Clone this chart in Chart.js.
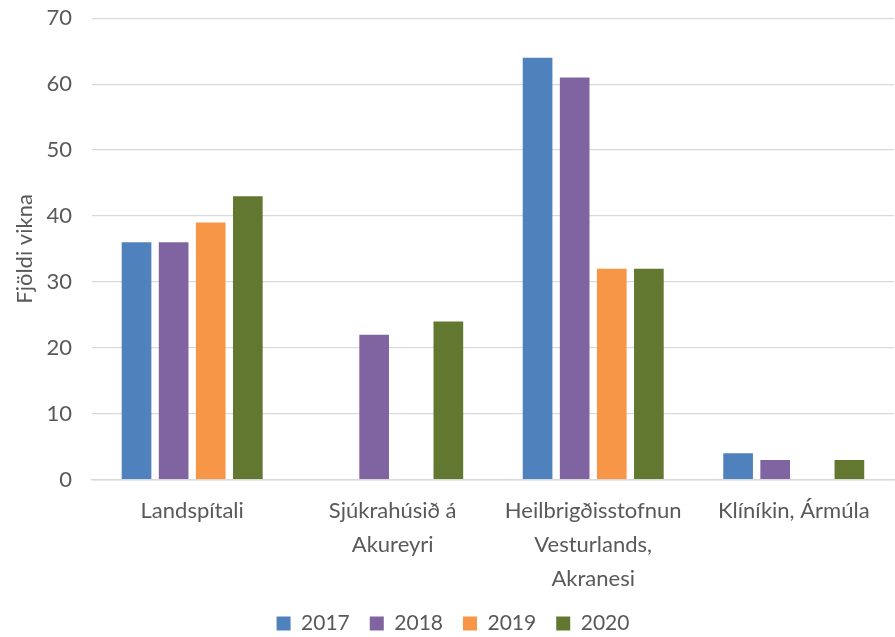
<!DOCTYPE html>
<html>
<head>
<meta charset="utf-8">
<script src="https://cdn.jsdelivr.net/npm/chart.js@4/dist/chart.umd.min.js"></script>
<style>
  html, body { margin: 0; padding: 0; background: #fff; }
  #wrap { width: 895px; height: 637px; }
</style>
</head>
<body>
<div id="wrap"><canvas id="chart"></canvas></div>
<script>
const categories = [
    "Landspítali",
    ["Sjúkrahúsið á", "Akureyri"],
    ["Heilbrigðisstofnun", "Vesturlands,", "Akranesi"],
    "Klíníkin, Ármúla",
];
const years = ["2017", "2018", "2019", "2020"];
const values2017 = [36, null, 64, 4];
const values2018 = [36, 22, 61, 3];
const values2019 = [39, null, 32, null];
const values2020 = [43, 24, 32, 3];
const colors = ["#4F81BD", "#8064A2", "#F79646", "#62772F"];
const yTicks = [0, 10, 20, 30, 40, 50, 60, 70];

const font = "Lato, 'Open Sans', sans-serif";
const textColor = "#595959";

const seriesValues = [values2017, values2018, values2019, values2020];
const datasets = years.map((year, i) => ({
    label: year,
    data: seriesValues[i],
    backgroundColor: colors[i],
    barPercentage: 0.8,
    categoryPercentage: 0.74,
}));

// pull the legend up closer to the axis labels, like the original
const legendNudge = {
    id: "legendNudge",
    afterLayout(chart) {
        const lg = chart.legend;
        if (lg) {
            lg.top -= 17;
            lg.bottom -= 17;
        }
    },
};

const ctx = document.getElementById("chart");
new Chart(ctx, {
    type: "bar",
    data: { labels: categories, datasets: datasets },
    plugins: [legendNudge],
    options: {
        responsive: true,
        maintainAspectRatio: false,
        animation: false,
        layout: { padding: { top: 4, right: 1, left: 12, bottom: -24 } },
        scales: {
            x: {
                grid: { display: false, drawTicks: false },
                border: { color: "#d9d9d9", width: 1.5 },
                ticks: {
                    color: textColor,
                    font: { family: font, size: 22, lineHeight: 1.55 },
                    padding: 14,
                    maxRotation: 0,
                    autoSkip: false,
                },
            },
            y: {
                min: 0,
                max: 70,
                afterBuildTicks: (axis) => {
                    axis.ticks = yTicks.map((v) => ({ value: v }));
                },
                grid: {
                    color: "#d9d9d9",
                    lineWidth: 1.2,
                    drawTicks: true,
                    tickLength: 15,
                    tickColor: "rgba(0,0,0,0)",
                },
                border: { display: false },
                ticks: {
                    color: textColor,
                    font: { family: font, size: 22 },
                    padding: 5,
                },
                title: {
                    display: true,
                    text: "Fjöldi vikna",
                    color: textColor,
                    font: { family: font, size: 22 },
                    padding: { top: 0, bottom: 3 },
                },
            },
        },
        plugins: {
            legend: {
                position: "bottom",
                labels: {
                    color: textColor,
                    font: { family: font, size: 21 },
                    boxWidth: 14,
                    boxHeight: 14,
                    padding: 20,
                },
            },
            tooltip: { enabled: false },
        },
    },
});
</script>
</body>
</html>
